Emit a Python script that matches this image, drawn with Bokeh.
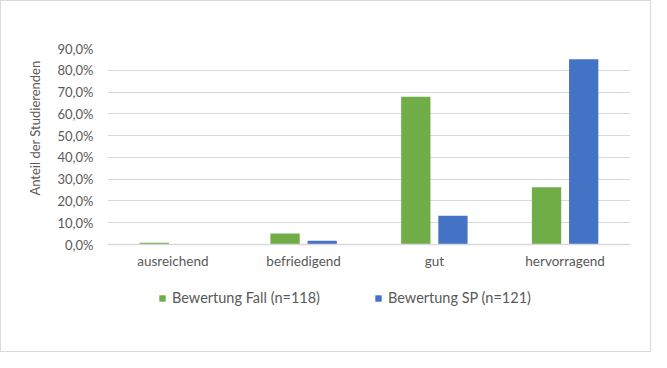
from bokeh.plotting import figure
from bokeh.models import (FactorRange, Range1d, ColumnDataSource, CustomJSTickFormatter,
                          Legend, LegendItem, CategoricalAxis, Title)
from bokeh.transform import dodge
from bokeh.embed import file_html
from bokeh.resources import INLINE

categories = ["ausreichend", "befriedigend", "gut", "hervorragend"]
fall = [0.8, 5.1, 67.8, 26.3]
sp = [0.0, 1.7, 13.2, 85.1]
series_names = ["Bewertung Fall (n=118)", "Bewertung SP (n=121)"]
colors = ["#70AD47", "#4472C4"]
y_ticks = [0, 10, 20, 30, 40, 50, 60, 70, 80, 90]
y_title = "Anteil der Studierenden"

FONT = "Lato"
TXT = "#595959"
GRID = "#D9D9D9"

# frame spans 47..351 px; value 0 sits at 243 px, 90 at 47 px
y_bottom = -90 * (351 - 243) / (243 - 47)

src = ColumnDataSource(dict(cat=categories, fall=fall, sp=sp))

p = figure(width=651, height=352, output_backend="svg", toolbar_location=None,
           x_range=FactorRange(*categories, range_padding=0),
           y_range=Range1d(y_bottom, y_ticks[-1]),
           x_axis_location=None,
           min_border_left=106, min_border_right=22,
           min_border_top=47, min_border_bottom=1)
p.styles = {"border": "1px solid #D9D9D9"}
p.outline_line_color = None
p.background_fill_color = "white"
p.border_fill_color = "white"

r1 = p.vbar(x=dodge("cat", -0.142, range=p.x_range), top="fall", bottom=0, width=0.224,
            source=src, fill_color=colors[0], line_color=None)
r2 = p.vbar(x=dodge("cat", 0.142, range=p.x_range), top="sp", bottom=0, width=0.224,
            source=src, fill_color=colors[1], line_color=None)

xaxis = CategoricalAxis(fixed_location=0)
xaxis.axis_line_color = GRID
xaxis.axis_line_width = 1.5
xaxis.major_tick_line_color = None
xaxis.minor_tick_line_color = None
xaxis.major_label_standoff = 2
xaxis.major_label_text_font = FONT
xaxis.major_label_text_font_size = "13.5px"
xaxis.major_label_text_color = TXT
p.add_layout(xaxis, "below")

p.xgrid.grid_line_color = None
p.ygrid.grid_line_color = GRID
p.ygrid.grid_line_width = 1
p.yaxis.ticker = y_ticks
p.yaxis.formatter = CustomJSTickFormatter(
    code="return tick.toFixed(1).replace('.', ',') + '%';")
p.yaxis.axis_line_color = None
p.yaxis.major_tick_line_color = None
p.yaxis.minor_tick_line_color = None
p.yaxis.major_label_standoff = 8
p.yaxis.major_label_text_font = FONT
p.yaxis.major_label_text_font_size = "13px"
p.yaxis.major_label_text_color = TXT

title = Title(text=y_title, align="right", offset=12, vertical_align="middle",
              standoff=22, text_font=FONT, text_font_size="13px",
              text_font_style="normal", text_color=TXT)
p.add_layout(title, "left")

legend = Legend(items=[LegendItem(label=series_names[0], renderers=[r1]),
                       LegendItem(label=series_names[1], renderers=[r2])],
                orientation="horizontal", location=(51, 46),
                glyph_width=8, glyph_height=8, label_standoff=6, spacing=22,
                label_width=180, label_height=14, padding=0, margin=0,
                border_line_color=None, background_fill_alpha=0,
                label_text_font=FONT, label_text_font_size="14.5px",
                label_text_color=TXT)
p.add_layout(legend, "center")

open("out.html", "w").write(file_html(p, INLINE))
